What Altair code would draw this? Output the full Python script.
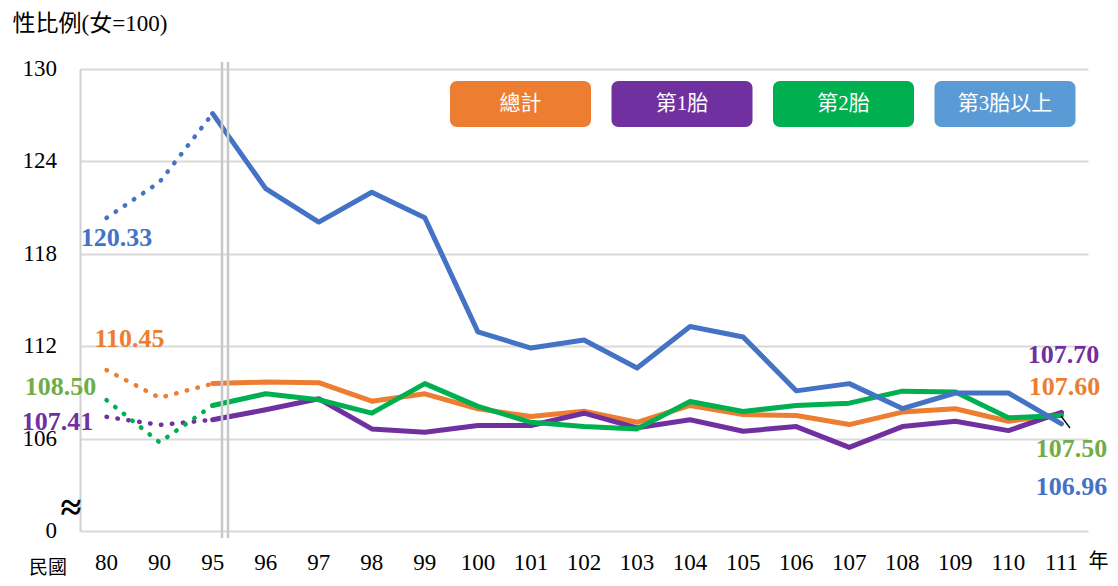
import altair as alt
import pandas as pd

years = ["80", "90", "95", "96", "97", "98", "99", "100", "101", "102", "103",
         "104", "105", "106", "107", "108", "109", "110", "111"]
total = [110.45, 108.65, 109.57, 109.67, 109.63, 108.43, 108.91, 107.94, 107.43, 107.78,
         107.06, 108.15, 107.56, 107.50, 106.91, 107.72, 107.94, 107.13, 107.60]
first = [107.41, 106.89, 107.22, 107.87, 108.59, 106.63, 106.41, 106.85, 106.85, 107.65,
         106.70, 107.22, 106.48, 106.78, 105.43, 106.78, 107.13, 106.52, 107.70]
second = [108.50, 105.76, 108.15, 108.91, 108.52, 107.65, 109.57, 108.09, 107.06, 106.78,
          106.63, 108.41, 107.76, 108.15, 108.30, 109.08, 109.02, 107.35, 107.50]
third = [120.33, 122.66, 127.10, 122.23, 120.06, 122.00, 120.34, 112.93, 111.88, 112.40,
         110.58, 113.28, 112.60, 109.10, 109.57, 107.95, 108.96, 108.96, 106.96]

series_names = ["總計", "第1胎", "第2胎", "第3胎以上"]
series_values = [total, first, second, third]
line_colors = ["#ED7D31", "#7030A0", "#00B050", "#4472C4"]
legend_colors = ["#ED7D31", "#7030A0", "#00B050", "#5B9BD5"]
label_colors = ["#ED7D31", "#7030A0", "#70AD47", "#4472C4"]
y_ticks = [100, 106, 112, 118, 124, 130]
y_tick_labels = ["0", "106", "112", "118", "124", "130"]
early_years = ["80", "90", "95"]
late_years = years[2:]

rows = []
for name, vals in zip(series_names, series_values):
    for yr, v in zip(years, vals):
        rows.append({"year": yr, "series": name, "value": v})
df = pd.DataFrame(rows)
ytick_df = pd.DataFrame({"value": y_ticks, "label": y_tick_labels})
xtick_df = pd.DataFrame({"year": years})

SERIF = "Liberation Serif"
CJK = "Liberation Serif, Noto Sans CJK TC"

x_enc = alt.X(
    "year:N", sort=years,
    scale=alt.Scale(type="point", padding=0.5),
    axis=alt.Axis(domain=False, ticks=False, grid=False, labels=False,
                  title="年", titleX=1018, titleY=30, titleAlign="center",
                  titleBaseline="middle", titleFont=CJK, titleFontSize=20,
                  titleFontWeight="normal", titleColor="black"),
)
y_enc = alt.Y(
    "value:Q",
    scale=alt.Scale(domain=[100, 130], nice=False, zero=False),
    axis=alt.Axis(values=y_ticks, labels=False,
                  grid=True, gridColor="#d9d9d9", gridWidth=2,
                  domainColor="#d0d0d0", domainWidth=2, ticks=False,
                  title="性比例(女=100)", titleAngle=0, titleX=-68, titleY=-46,
                  titleAlign="left", titleBaseline="middle", titleFont=CJK,
                  titleFontSize=23, titleFontWeight="normal", titleColor="black"),
)

layers = []
for name, col in zip(series_names, line_colors):
    base = alt.Chart(df).transform_filter(alt.datum.series == name)
    dotted = base.transform_filter(
        alt.FieldOneOfPredicate(field="year", oneOf=early_years)
    ).mark_line(color=col, strokeWidth=4.5, strokeDash=[0.5, 10.5], strokeCap="round").encode(
        x=x_enc, y=y_enc)
    solid = base.transform_filter(
        alt.FieldOneOfPredicate(field="year", oneOf=late_years)
    ).mark_line(color=col, strokeWidth=5, strokeCap="round", strokeJoin="round").encode(
        x=x_enc, y=y_enc)
    layers += [dotted, solid]

# tick labels drawn as text through the scales
layers.append(alt.Chart(ytick_df).mark_text(
    font=SERIF, fontSize=23, color="black", align="right", baseline="middle").encode(
    x=alt.value(-23), y=alt.Y("value:Q"), text="label:N"))
layers.append(alt.Chart(xtick_df).mark_text(
    font=SERIF, fontSize=23, color="black", align="center", baseline="middle").encode(
    x=alt.X("year:N", sort=years), y=alt.value(494), text="year:N"))

# value labels at start (80) and end (111)
label_offsets = {
    ("總計", "80"): (23, -31), ("第1胎", "80"): (-49, 5),
    ("第2胎", "80"): (-46, -13), ("第3胎以上", "80"): (10, 20),
    ("總計", "111"): (3, -27), ("第1胎", "111"): (2, -57),
    ("第2胎", "111"): (10, 33), ("第3胎以上", "111"): (10, 63),
}
for (name, yr), (dx, dy) in label_offsets.items():
    col = label_colors[series_names.index(name)]
    lab = alt.Chart(df).transform_filter(
        (alt.datum.series == name) & (alt.datum.year == yr)
    ).mark_text(color=col, font=SERIF, fontSize=26, fontWeight="bold", dx=dx, dy=dy,
                align="center", baseline="middle").encode(
        x=x_enc, y=y_enc, text=alt.Text("value:Q", format=".2f"))
    layers.append(lab)

# axis-break double line
brk = pd.DataFrame({"k": [0]})
for px in [142, 148]:
    layers.append(alt.Chart(brk).mark_rule(color="#c8c8c8", strokeWidth=2.5).encode(
        x=alt.value(px), y=alt.value(-7), y2=alt.value(469)))

# break symbol on y axis
layers.append(alt.Chart(pd.DataFrame({"t": ["≈"]})).mark_text(
    font=SERIF, fontSize=38, fontWeight="bold", color="black").encode(
    x=alt.value(-9), y=alt.value(440), text="t:N"))

# leader line at the end
layers.append(alt.Chart(brk).mark_rule(color="black", strokeWidth=1.3).encode(
    x=alt.value(981), y=alt.value(347), x2=alt.value(990), y2=alt.value(359)))

# "民國" label
layers.append(alt.Chart(pd.DataFrame({"t": ["民國"]})).mark_text(
    font=CJK, fontSize=19, color="black").encode(
    x=alt.value(-32), y=alt.value(499), text="t:N"))

# custom legend boxes
for i, (name, col) in enumerate(zip(series_names, legend_colors)):
    x0 = 370 + i * 161.5
    ldf = pd.DataFrame({"series": [name]})
    layers.append(alt.Chart(ldf).mark_rect(color=col, cornerRadius=7).encode(
        x=alt.value(x0), x2=alt.value(x0 + 141), y=alt.value(12), y2=alt.value(58)))
    layers.append(alt.Chart(ldf).mark_text(color="white", font=CJK, fontSize=21).encode(
        x=alt.value(x0 + 70.5), y=alt.value(35), text="series:N"))

chart = alt.layer(*layers).properties(
    width=1008, height=462,
    autosize=alt.AutoSizeParams(type="none"),
    padding={"left": 72, "top": 61, "right": 22, "bottom": 47},
).configure_view(stroke=None)

chart.save("out.html", embed_options={"renderer": "svg", "actions": False})
